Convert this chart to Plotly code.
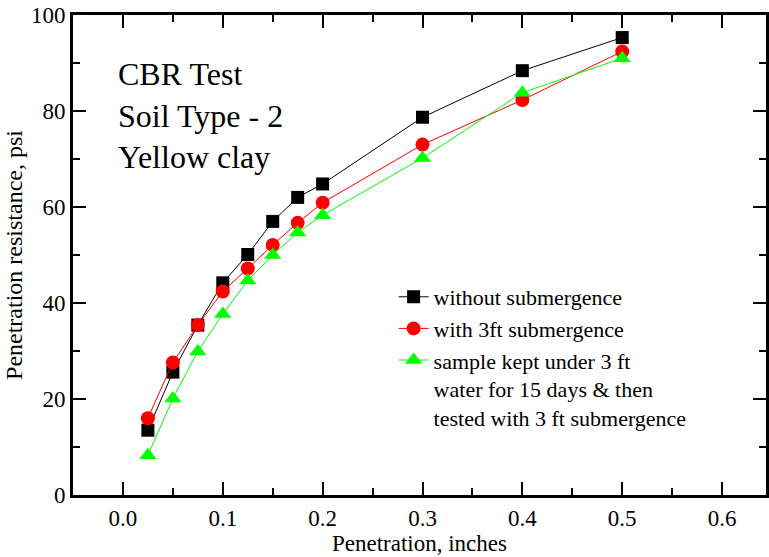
import plotly.graph_objects as go

penetration = [0.025, 0.05, 0.075, 0.1, 0.125, 0.15, 0.175, 0.2, 0.3, 0.4, 0.5]
without_sub = [13.5, 25.6, 35.4, 44.2, 50.1, 57.0, 62.0, 64.8, 78.7, 88.4, 95.3]
with_3ft_sub = [16.0, 27.6, 35.4, 42.4, 47.2, 52.1, 56.7, 60.9, 73.0, 82.3, 92.4]
kept_15_days = [8.3, 20.1, 29.9, 37.7, 44.7, 50.0, 54.7, 58.3, 70.2, 83.8, 91.0]

series_names = [
    "without submergence",
    "with 3ft submergence",
    "sample kept under 3 ft<br>water for 15 days & then<br>tested with 3 ft submergence",
]

FONT = "Liberation Serif, Times New Roman, serif"

fig = go.Figure()
fig.add_trace(go.Scatter(
    x=penetration, y=without_sub, mode="lines+markers", name=series_names[0],
    line=dict(color="black", width=1),
    marker=dict(symbol="square", size=13, color="black"),
))
fig.add_trace(go.Scatter(
    x=penetration, y=with_3ft_sub, mode="lines+markers", name=series_names[1],
    line=dict(color="#ff0000", width=1),
    marker=dict(symbol="circle", size=14, color="#ff0000"),
))
fig.add_trace(go.Scatter(
    x=penetration, y=kept_15_days, mode="lines+markers", name=series_names[2],
    line=dict(color="#00ff00", width=1),
    marker=dict(symbol="triangle-up", size=15, color="#00ff00"),
))

axis_common = dict(
    showline=True, linecolor="black", linewidth=3, mirror="allticks",
    ticks="inside", ticklen=13, tickwidth=2, tickcolor="black",
    showgrid=False, zeroline=False,
    tickfont=dict(family=FONT, size=23, color="black"),
)

fig.update_xaxes(
    range=[-0.05, 0.644], tickvals=[0, 0.1, 0.2, 0.3, 0.4, 0.5, 0.6],
    ticktext=["0.0", "0.1", "0.2", "0.3", "0.4", "0.5", "0.6"],
    minor=dict(dtick=0.05, tick0=0, ticks="inside", ticklen=7, tickwidth=2, tickcolor="black"),
    title=dict(text="Penetration, inches", font=dict(family=FONT, size=23, color="black"), standoff=5),
    **axis_common,
)
fig.update_yaxes(
    range=[0, 100], tickvals=[0, 20, 40, 60, 80, 100],
    minor=dict(dtick=10, tick0=0, ticks="inside", ticklen=7, tickwidth=2, tickcolor="black"),
    title=dict(text="Penetration resistance, psi", font=dict(family=FONT, size=24, color="black"), standoff=2),
    ticklabelstandoff=0,
    **axis_common,
)

fig.add_annotation(
    x=-0.007, y=79, xref="x", yref="y", xanchor="left", yanchor="middle",
    text="CBR Test<br>Soil Type - 2<br>Yellow clay", showarrow=False, align="left",
    font=dict(family=FONT, size=32, color="black"),
)

fig.update_layout(
    width=769, height=557,
    margin=dict(l=73, r=0, t=15, b=62),
    plot_bgcolor="white", paper_bgcolor="white",
    showlegend=True,
    legend=dict(
        x=(395 - 73) / 696, y=(495 - 276) / 480, xanchor="left", yanchor="top",
        font=dict(family=FONT, size=22, color="black"),
        bgcolor="rgba(0,0,0,0)", tracegroupgap=0, itemwidth=30, valign="top",
    ),
)

fig.write_html("out.html")
